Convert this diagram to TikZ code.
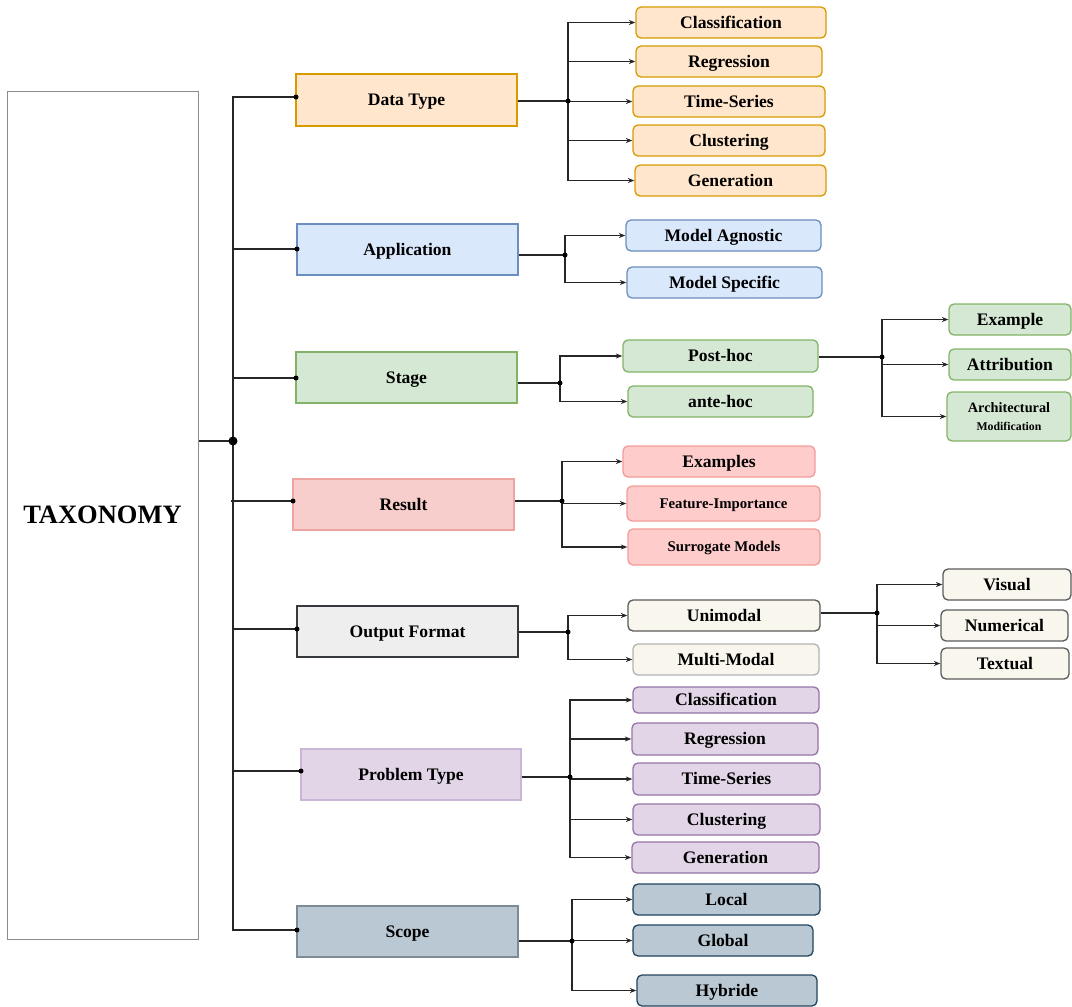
\documentclass[tikz,border=0pt]{standalone}
\usepackage{fontspec}
\setmainfont{Liberation Serif}
\usetikzlibrary{arrows.meta}

% fills and strokes of the branches
\definecolor{orF}{HTML}{FFE6CC}\definecolor{orD}{HTML}{D79B00}
\definecolor{blF}{HTML}{DAE8FC}\definecolor{blD}{HTML}{6C8EBF}
\definecolor{grF}{HTML}{D5E8D4}\definecolor{grD}{HTML}{82B366}
\definecolor{rdF}{HTML}{FFCCCC}\definecolor{rdD}{HTML}{F19C99}
\definecolor{rdF1}{HTML}{F8CECC}\definecolor{rdD1}{HTML}{EFA4A2}
\definecolor{gyF}{HTML}{EEEEEE}\definecolor{gyD}{HTML}{36393D}
\definecolor{crF}{HTML}{F9F7ED}\definecolor{crD}{HTML}{5A5A5A}
\definecolor{puF}{HTML}{E1D5E7}\definecolor{puD}{HTML}{9673A6}\definecolor{puD1}{HTML}{C9B6D6}
\definecolor{slF}{HTML}{BAC8D3}\definecolor{slD}{HTML}{23445D}\definecolor{slD1}{HTML}{7D8B96}

\tikzset{
  tfont/.style={font=\fontsize{17.6}{20}\selectfont\bfseries, text height=11.6pt, text depth=0pt},
  l1/.style={draw, line width=1.3pt, inner sep=0pt, tfont},
  sub/.style={draw, rounded corners=5pt, line width=1.3pt, inner sep=0pt, tfont},
  smalltext/.style={font=\fontsize{14.8}{17}\selectfont\bfseries, text height=9.8pt},
  conn/.style={draw=black!85, line width=1.1pt},
  arr/.style={conn, -{Stealth[length=6.5pt,width=5pt]}},
  dotsm/.style={fill=black, circle, inner sep=0pt, minimum size=5pt},
}

\begin{document}
\begin{tikzpicture}[x=1pt,y=-1pt]
\useasboundingbox (0,0) rectangle (1072,1007);

% root
\node[draw=black!45, line width=1pt, minimum width=191pt, minimum height=848pt, inner sep=0pt,
      font=\fontsize{26.5}{30}\selectfont\bfseries, text height=17.5pt, text depth=0pt] (tax) at (102.5,515) {TAXONOMY};

% first level
\node[l1, fill=orF, draw=orD, minimum width=221pt, minimum height=52pt] (dt) at (406.5,100) {Data Type};
\node[l1, fill=blF, draw=blD, minimum width=221pt, minimum height=51pt] (app) at (407.5,249.5) {Application};
\node[l1, fill=grF, draw=grD, minimum width=221pt, minimum height=51pt] (stg) at (406.5,377.5) {Stage};
\node[l1, fill=rdF1, draw=rdD1, minimum width=221pt, minimum height=51pt] (res) at (403.5,504.5) {Result};
\node[l1, fill=gyF, draw=gyD, minimum width=221pt, minimum height=51pt] (out) at (407.5,631.5) {Output Format};
\node[l1, fill=puF, draw=puD1, minimum width=220pt, minimum height=51pt] (prob) at (411,774.5) {Problem Type};
\node[l1, fill=slF, draw=slD1, minimum width=221pt, minimum height=51pt] (scope) at (407.5,931.5) {Scope};

% trunk
\coordinate (hub) at (233,441);
\coordinate (dt-in) at (296,97);
\coordinate (app-in) at (297,249);
\coordinate (stg-in) at (296,378);
\coordinate (res-in) at (293,501);
\coordinate (out-in) at (297,629);
\coordinate (prob-in) at (301,771);
\coordinate (scope-in) at (297,930);
\draw[conn] (tax.east |- hub) -- (hub);
\foreach \n in {dt,app,stg,out,prob,scope}{
  \draw[conn] (hub) |- (\n-in);
  \node[dotsm] at (\n-in) {};
}
\draw[conn, line width=2pt] ([xshift=-2pt]hub |- res-in) -- (res-in);
\node[dotsm] at (res-in) {};
\node[fill=black, circle, inner sep=0pt, minimum size=9pt] at (hub) {};

% Data Type
\node[sub, fill=orF, draw=orD, minimum width=190pt, minimum height=31pt] (dt1) at (731,22.5) {Classification};
\node[sub, fill=orF, draw=orD, minimum width=186pt, minimum height=31pt] (dt2) at (729,61.5) {Regression};
\node[sub, fill=orF, draw=orD, minimum width=192pt, minimum height=31pt] (dt3) at (729,101.5) {Time-Series};
\node[sub, fill=orF, draw=orD, minimum width=192pt, minimum height=31pt] (dt4) at (729,140.5) {Clustering};
\node[sub, fill=orF, draw=orD, minimum width=191pt, minimum height=31pt] (dt5) at (730.5,180.5) {Generation};
\coordinate (dtb) at (568,101);
\draw[conn] (dt.east |- dtb) -- (dtb);
\foreach \c in {dt1,dt2,dt3,dt4,dt5} \draw[arr] (dtb) |- (\c.west);
\node[dotsm] at (dtb) {};

% Application
\node[sub, fill=blF, draw=blD, minimum width=195pt, minimum height=31pt] (ap1) at (723.5,235.5) {Model Agnostic};
\node[sub, fill=blF, draw=blD, minimum width=195pt, minimum height=31pt] (ap2) at (724.5,282.5) {Model Specific};
\coordinate (apb) at (565,255);
\draw[conn] (app.east |- apb) -- (apb);
\foreach \c in {ap1,ap2} \draw[arr] (apb) |- (\c.west);
\node[dotsm] at (apb) {};

% Stage
\node[sub, fill=grF, draw=grD, minimum width=195pt, minimum height=32pt] (st1) at (720.5,356) {Post-hoc};
\node[sub, fill=grF, draw=grD, minimum width=185pt, minimum height=31pt] (st2) at (720.5,401.5) {ante-hoc};
\coordinate (stb) at (560,383);
\draw[conn] (stg.east |- stb) -- (stb);
\foreach \c in {st1,st2} \draw[arr] (stb) |- (\c.west);
\node[dotsm] at (stb) {};

% Post-hoc
\node[sub, fill=grF, draw=grD, minimum width=122pt, minimum height=31pt] (ph1) at (1010,319.5) {Example};
\node[sub, fill=grF, draw=grD, minimum width=122pt, minimum height=31pt] (ph2) at (1010,364.5) {Attribution};
\node[sub, fill=grF, draw=grD, minimum width=124pt, minimum height=49pt, align=center,
      text height={}, text depth={}] (ph3) at (1009,416.5)
  {{\fontsize{14.3}{16}\selectfont Architectural}\\[-1.5pt]{\fontsize{11.8}{13}\selectfont Modification}};
\coordinate (phb) at (882,357);
\draw[conn] (st1.east |- phb) -- (phb);
\foreach \c in {ph1,ph2,ph3} \draw[arr] (phb) |- (\c.west);
\node[dotsm] at (phb) {};

% Result
\node[sub, fill=rdF, draw=rdD, minimum width=192pt, minimum height=31pt] (rs1) at (719,461.5) {Examples};
\node[sub, fill=rdF, draw=rdD, minimum width=193pt, minimum height=35pt, smalltext] (rs2) at (723.5,503.5) {Feature-Importance};
\node[sub, fill=rdF, draw=rdD, minimum width=192pt, minimum height=36pt, smalltext] (rs3) at (724,547) {Surrogate Models};
\coordinate (rsb) at (562,501);
\draw[conn] (res.east |- rsb) -- (rsb);
\foreach \c in {rs1,rs2,rs3} \draw[arr] (rsb) |- (\c.west);
\node[dotsm] at (rsb) {};

% Output Format
\node[sub, fill=crF, draw=crD, minimum width=192pt, minimum height=31pt] (of1) at (724,615.5) {Unimodal};
\node[sub, fill=crF, draw=black!30, minimum width=186pt, minimum height=31pt] (of2) at (726,659.5) {Multi-Modal};
\coordinate (ofb) at (568,632);
\draw[conn] (out.east |- ofb) -- (ofb);
\foreach \c in {of1,of2} \draw[arr] (ofb) |- (\c.west);
\node[dotsm] at (ofb) {};

% Unimodal
\node[sub, fill=crF, draw=crD, minimum width=128pt, minimum height=31pt] (um1) at (1007,584.5) {Visual};
\node[sub, fill=crF, draw=crD, minimum width=127pt, minimum height=31pt] (um2) at (1004.5,625.5) {Numerical};
\node[sub, fill=crF, draw=crD, minimum width=128pt, minimum height=31pt] (um3) at (1005,663.5) {Textual};
\coordinate (umb) at (877,613);
\draw[conn] (of1.east |- umb) -- (umb);
\foreach \c in {um1,um2,um3} \draw[arr] (umb) |- (\c.west);
\node[dotsm] at (umb) {};

% Problem Type
\node[sub, fill=puF, draw=puD, minimum width=186pt, minimum height=26pt] (pt1) at (726,700) {Classification};
\node[sub, fill=puF, draw=puD, minimum width=186pt, minimum height=32pt] (pt2) at (725,739) {Regression};
\node[sub, fill=puF, draw=puD, minimum width=187pt, minimum height=32pt] (pt3) at (726.5,779) {Time-Series};
\node[sub, fill=puF, draw=puD, minimum width=187pt, minimum height=31pt] (pt4) at (726.5,819.5) {Clustering};
\node[sub, fill=puF, draw=puD, minimum width=187pt, minimum height=31pt] (pt5) at (725.5,857.5) {Generation};
\coordinate (ptb) at (570,777);
\draw[conn] (prob.east |- ptb) -- (ptb);
\foreach \c in {pt1,pt2,pt3,pt4,pt5} \draw[arr] (ptb) |- (\c.west);
\node[dotsm] at (ptb) {};

% Scope
\node[sub, fill=slF, draw=slD, minimum width=187pt, minimum height=31pt] (sc1) at (726.5,899.5) {Local};
\node[sub, fill=slF, draw=slD, minimum width=180pt, minimum height=31pt] (sc2) at (723,940.5) {Global};
\node[sub, fill=slF, draw=slD, minimum width=180pt, minimum height=31pt] (sc3) at (727,990.5) {Hybride};
\coordinate (scb) at (572,941);
\draw[conn] (scope.east |- scb) -- (scb);
\foreach \c in {sc1,sc2,sc3} \draw[arr] (scb) |- (\c.west);
\node[dotsm] at (scb) {};
\end{tikzpicture}
\end{document}
